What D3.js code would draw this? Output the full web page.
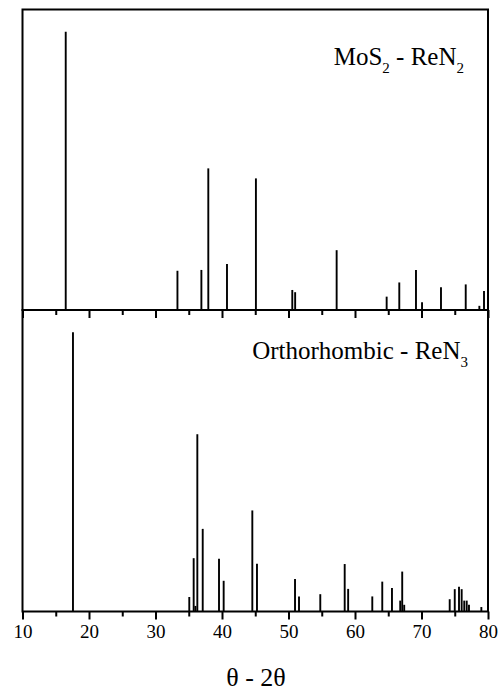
<!DOCTYPE html>
<html><head><meta charset="utf-8">
<script src="https://cdn.jsdelivr.net/npm/d3@7"></script>
<style>
html,body{margin:0;padding:0;background:#fff;}
svg{display:block;}
</style></head>
<body>
<svg id="chart" width="503" height="694"></svg>
<script>
// ---- data (2θ position, relative intensity) ----
const mos2Pos = [16.5, 33.3, 36.9, 37.94, 40.75, 45.1, 50.57, 51.0, 57.24, 64.76, 66.66, 69.17, 70.08, 72.93, 76.65, 78.7, 79.4];
const mos2Int = [100, 14.1, 14.4, 50.9, 16.5, 47.3, 7.2, 6.4, 21.5, 4.8, 9.9, 14.4, 2.8, 8.2, 9.2, 1.5, 6.8];
const orthoPos = [17.59, 35.08, 35.74, 36.0, 36.29, 37.1, 39.55, 40.25, 44.56, 45.26, 50.98, 51.58, 54.78, 58.45, 58.97, 62.6, 64.1, 65.56, 66.8, 67.1, 67.4, 74.24, 75.0, 75.64, 76.04, 76.43, 76.8, 77.14, 79.0];
const orthoInt = [100, 5.2, 19.1, 2.0, 63.5, 29.6, 18.9, 11.0, 36.2, 17.1, 11.6, 5.4, 6.2, 17.0, 8.1, 5.4, 10.7, 8.4, 3.9, 14.3, 2.4, 4.4, 8.0, 8.9, 8.0, 3.9, 3.9, 2.4, 1.6];
const majorTicks = [10, 20, 30, 40, 50, 60, 70, 80];
const minorTicks = [15, 25, 35, 45, 55, 65, 75];
const xTitle = "θ - 2θ";

(function () {
const FONT = "Liberation Serif";
const svg = d3.select("#chart");
const pLeft = 22.5, pRight = 488, pTop = 9.5, pMid = 310, pBottom = 611.5;

const x = d3.scaleLinear().domain([10, 80]).range([pLeft, pRight]);
const yTop = d3.scaleLinear().domain([0, 108]).range([pMid, pTop]);
const yBot = d3.scaleLinear().domain([0, 108]).range([pBottom, pMid]);

function peaks(pos, ints, y) {
  const data = pos.map((p, i) => ({p, v: ints[i]}));
  svg.append("g").selectAll("line").data(data).join("line")
    .attr("x1", d => x(d.p)).attr("x2", d => x(d.p))
    .attr("y1", y(0)).attr("y2", d => y(d.v))
    .attr("stroke", "#000").attr("stroke-width", 1.9);
}
peaks(mos2Pos, mos2Int, yTop);
peaks(orthoPos, orthoInt, yBot);

function axis(yPos, labels) {
  const gMaj = svg.append("g").attr("transform", `translate(0,${yPos})`)
    .call(d3.axisBottom(x).tickValues(majorTicks).tickSize(8).tickSizeOuter(0)
      .tickFormat(labels ? d3.format("d") : () => ""));
  gMaj.attr("font-family", FONT);
  gMaj.select(".domain").remove();
  gMaj.selectAll("line").attr("stroke-width", 2);
  gMaj.selectAll("text").attr("font-size", 19).attr("font-family", FONT).attr("fill", "#000")
    .attr("y", 26).attr("dy", 0);
  const gMin = svg.append("g").attr("transform", `translate(0,${yPos})`)
    .call(d3.axisBottom(x).tickValues(minorTicks).tickSize(5).tickFormat(() => ""));
  gMin.select(".domain").remove();
  gMin.selectAll("line").attr("stroke-width", 2);
}
axis(pMid, false);
axis(pBottom, true);

// frames
svg.append("rect").attr("x", pLeft).attr("y", pTop).attr("width", pRight - pLeft).attr("height", pMid - pTop)
  .attr("fill", "none").attr("stroke", "#000").attr("stroke-width", 2);
svg.append("rect").attr("x", pLeft).attr("y", pMid).attr("width", pRight - pLeft).attr("height", pBottom - pMid)
  .attr("fill", "none").attr("stroke", "#000").attr("stroke-width", 2);

// labels
function label(xp, yp, parts) {
  const t = svg.append("text").attr("x", xp).attr("y", yp).attr("text-anchor", "end")
    .attr("font-family", FONT).attr("font-size", 25);
  let prevSub = false;
  parts.forEach(([s, sub]) => {
    const ts = t.append("tspan").text(s);
    if (sub) ts.attr("font-size", 15).attr("dy", 8);
    else if (prevSub) ts.attr("dy", -8);
    prevSub = sub;
  });
}
label(464, 65, [["MoS", false], ["2", true], [" - ReN", false], ["2", true]]);
label(468, 359, [["Orthorhombic - ReN", false], ["3", true]]);

svg.append("text").attr("x", 256).attr("y", 686).attr("text-anchor", "middle")
  .attr("font-family", FONT).attr("font-size", 26).text(xTitle);
})();
</script>
</body></html>
